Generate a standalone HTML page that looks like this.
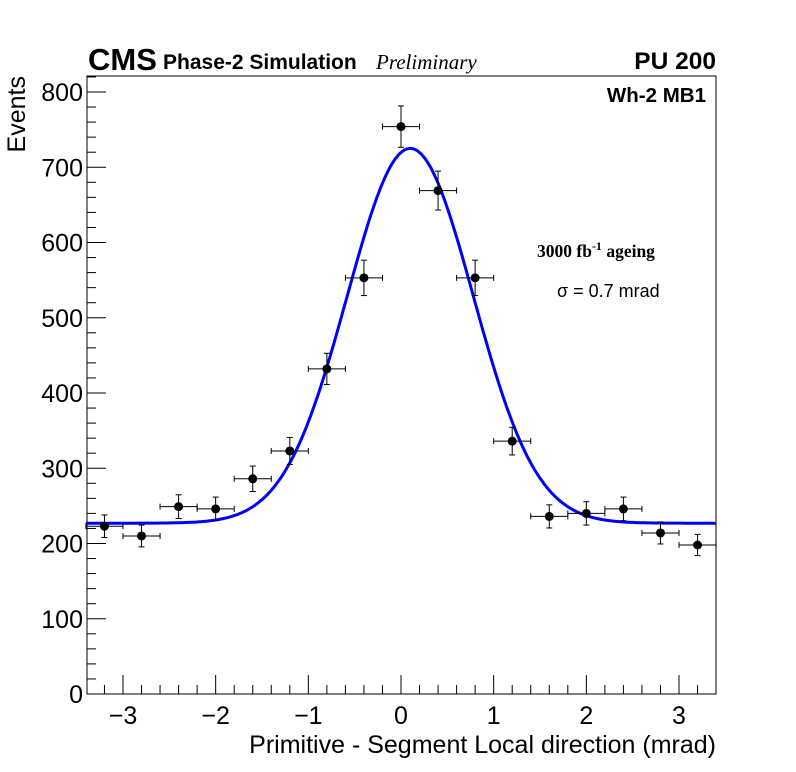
<!DOCTYPE html>
<html><head><meta charset="utf-8"><style>
body{margin:0;background:#fff;}
svg{display:block;font-family:"Liberation Sans",sans-serif;}
</style></head><body>
<svg id="c" width="796" height="772">
<text x="88" y="70" font-size="31" font-weight="bold">CMS</text>
<text x="163" y="69" font-size="21" font-weight="bold">Phase-2 Simulation</text>
<text x="376" y="69" font-size="21" font-style="italic" font-family="Liberation Serif,serif">Preliminary</text>
<text x="716" y="69" font-size="24.5" font-weight="bold" text-anchor="end">PU 200</text>
<text x="706" y="102" font-size="20.5" font-weight="bold" text-anchor="end">Wh-2 MB1</text>
<text x="537" y="257" font-size="17.5" font-weight="bold" font-family="Liberation Serif,serif">3000 fb<tspan dy="-7" font-size="12">-1</tspan><tspan dy="7"> ageing</tspan></text>
<text x="557" y="297" font-size="18">σ = 0.7 mrad</text>
<text transform="translate(25,76) rotate(-90)" font-size="25" text-anchor="end">Events</text>
<text x="716" y="753" font-size="25" text-anchor="end">Primitive - Segment Local direction (mrad)</text>
<g id="g"></g>
</svg>
<script>
const xCenters=[-3.2,-2.8,-2.4,-2.0,-1.6,-1.2,-0.8,-0.4,0,0.4,0.8,1.2,1.6,2.0,2.4,2.8,3.2];
const counts=[223,210,249,246,286,323,432,553,754,669,553,336,236,240,246,214,198];
const fitParams=[227,498,0.1,0.68];
const yTicks=[0,100,200,300,400,500,600,700,800];
const xTicks=[-3,-2,-1,0,1,2,3];
const X0=87,X1=716,Y0=694,Y1=76;
const sx=v=>401+v*92.67, sy=v=>694-v*0.7525;
const NS="http://www.w3.org/2000/svg";
const g=document.getElementById('g');
function mk(t,a,p){const e=document.createElementNS(NS,t);for(const k in a)e.setAttribute(k,a[k]);(p||g).appendChild(e);return e;}
const frame=mk('rect',{x:X0,y:Y1,width:X1-X0,height:Y0-Y1,fill:'none',stroke:'#000','stroke-width':1});


for(let v=0;v<=820;v+=20){const L=v%100===0?19:9;const y=sy(v);if(y<Y1)break;
 const t=mk('line',{x1:X0,x2:X0+L,y1:y,y2:y,stroke:'#000'});
 
 }
for(let i=-17;i<=17;i++){const v=i*0.2;const x=sx(v);if(x<X0||x>X1)continue;const L=i%5===0?19:9;
 const t=mk('line',{x1:x,x2:x,y1:Y0,y2:Y0-L,stroke:'#000'});
 
 }
yTicks.forEach(v=>{const t=mk('text',{x:X0-4,y:sy(v)+9,'font-size':25,'text-anchor':'end'});t.textContent=v;
 
 });
xTicks.forEach(v=>{const t=mk('text',{x:sx(v),y:724,'font-size':25,'text-anchor':'middle'});t.textContent=v<0?'\u2212'+(-v):v;
 
 });
const [c,A,mu,s]=fitParams;let d='';
for(let x=-3.4;x<=3.4001;x+=0.02){const y=c+A*Math.exp(-((x-mu)**2)/(2*s*s));d+=(d?'L':'M')+sx(x).toFixed(1)+','+sy(y).toFixed(1);}
const fit=mk('path',{d:d,fill:'none',stroke:'#0000ff','stroke-width':3});


xCenters.forEach((x,i)=>{const n=counts[i],e=Math.sqrt(n);const gg=mk('g',{});
 
 
 const cx=sx(x),cy=sy(n);
 mk('line',{x1:sx(x-0.2),x2:sx(x+0.2),y1:cy,y2:cy,stroke:'#000'},gg);
 mk('line',{x1:cx,x2:cx,y1:sy(n-e),y2:sy(n+e),stroke:'#000'},gg);
 [sx(x-0.2),sx(x+0.2)].forEach(xx=>mk('line',{x1:xx,x2:xx,y1:cy-3,y2:cy+3,stroke:'#000'},gg));
 [sy(n-e),sy(n+e)].forEach(yy=>mk('line',{x1:cx-3,x2:cx+3,y1:yy,y2:yy,stroke:'#000'},gg));
 mk('circle',{cx:cx,cy:cy,r:4.5,fill:'#000'},gg);});
</script>
</body></html>
